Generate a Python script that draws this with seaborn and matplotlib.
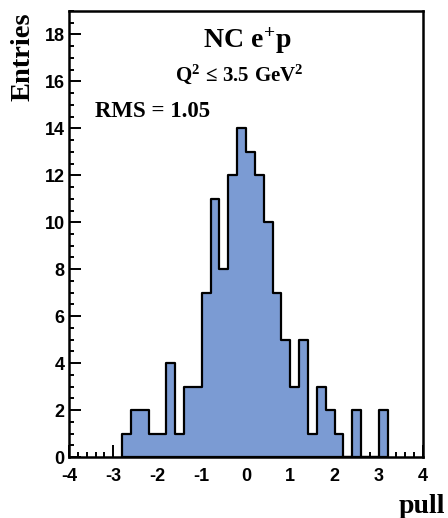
import numpy as np
import pandas as pd
import matplotlib
matplotlib.use('Agg')
import matplotlib.pyplot as plt
import seaborn as sns
from matplotlib.ticker import MultipleLocator

# -------------------------------
# Data: pull histogram, 0.2 wide bins from -2.8 to 3.2
# -------------------------------
bin_left = [-2.8, -2.6, -2.4, -2.2, -2.0, -1.8, -1.6, -1.4, -1.2, -1.0,
            -0.8, -0.6, -0.4, -0.2, 0.0, 0.2, 0.4, 0.6, 0.8, 1.0,
            1.2, 1.4, 1.6, 1.8, 2.0, 2.2, 2.4, 2.6, 2.8, 3.0]
entries = [1, 2, 2, 1, 1, 4, 1, 3, 3, 7,
           11, 8, 12, 14, 13, 12, 10, 7, 5, 3,
           5, 1, 3, 2, 1, 0, 2, 0, 0, 2]
bin_width = 0.2
x_ticks = [-4, -3, -2, -1, 0, 1, 2, 3, 4]
y_ticks = [0, 2, 4, 6, 8, 10, 12, 14, 16, 18]

df = pd.DataFrame({'pull': np.array(bin_left) + bin_width / 2, 'n': entries})
edges = [round(b, 1) for b in bin_left] + [round(bin_left[-1] + bin_width, 1)]

# -------------------------------
# Style
# -------------------------------
sns.set_style('ticks')
plt.rcParams['font.family'] = ['Liberation Sans', 'DejaVu Sans']
plt.rcParams['font.weight'] = 'bold'
plt.rcParams['axes.unicode_minus'] = False
plt.rcParams['text.color'] = 'black'
plt.rcParams['axes.edgecolor'] = 'black'
plt.rcParams['xtick.color'] = 'black'
plt.rcParams['ytick.color'] = 'black'
plt.rcParams['mathtext.fontset'] = 'custom'
plt.rcParams['mathtext.rm'] = 'Liberation Serif:bold'
plt.rcParams['mathtext.bf'] = 'Liberation Serif:bold'
plt.rcParams['mathtext.it'] = 'Liberation Serif:bold'

fig = plt.figure(figsize=(4.48, 5.18), dpi=100)
ax = fig.add_axes([69 / 448, 61 / 518, 354 / 448, 446 / 518])

sns.histplot(data=df, x='pull', weights='n', bins=edges, element='step',
             fill=True, facecolor='#7b9bd3', edgecolor='black',
             linewidth=1.6, alpha=1, ax=ax)

ax.set_xlim(-4, 4)
ax.set_ylim(0, 19)
ax.set_xticks(x_ticks)
ax.set_yticks(y_ticks)
ax.xaxis.set_minor_locator(MultipleLocator(0.2))
ax.yaxis.set_minor_locator(MultipleLocator(0.5))
ax.tick_params(which='both', direction='in', width=1.4, top=False, right=False)
ax.tick_params(which='major', length=8.5, labelsize=13)
ax.tick_params(axis='x', which='major', pad=8)
ax.tick_params(axis='y', which='major', pad=3)
ax.tick_params(which='minor', length=3.8)
for lbl in ax.get_xticklabels() + ax.get_yticklabels():
    lbl.set_fontweight('bold')
for s in ax.spines.values():
    s.set_linewidth(1.8)
ax.set_xlabel('')
ax.set_ylabel('')

serif = ['Liberation Serif', 'DejaVu Serif']
fig.text(23 / 448, 1 - 12 / 518, 'Entries', rotation=90, ha='center', va='top',
         fontsize=20.5, fontweight='bold', family=serif)
fig.text(445 / 448, 5 / 518, 'pull', ha='right', va='baseline',
         fontsize=20, fontweight='bold', family=serif)

ax.text(0.503, 0.917, r'$\mathbf{NC\ e^{+}p}$', transform=ax.transAxes,
        ha='center', va='baseline', fontsize=20)
ax.text(0.48, 0.843, r'$\mathbf{Q^{2}\ ≤\ 3.5\ GeV^{2}}$', transform=ax.transAxes,
        ha='center', va='baseline', fontsize=15)
ax.text(0.073, 0.762, 'RMS = 1.05', transform=ax.transAxes,
        ha='left', va='baseline', fontsize=16.5, fontweight='bold', family=serif)

fig.savefig('out.png', dpi=100)
